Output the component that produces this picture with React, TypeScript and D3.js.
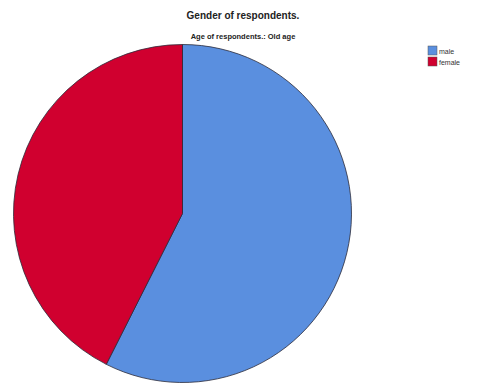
import React from "react";
import * as d3 from "d3";

const categories = ["male", "female"];
const counts = [27, 20];
const colors = ["#5A8FDF", "#D0002F"];
const title = "Gender of respondents.";
const subtitle = "Age of respondents.: Old age";

export default function App() {
  const W = 478, H = 384;
  const cx = 182.5, cy = 213.5, r = 169;
  const pie = d3.pie<number>().sort(null).value((d) => d)(counts);
  const arc = d3.arc<d3.PieArcDatum<number>>().innerRadius(0).outerRadius(r);
  return (
    <svg width={W} height={H} style={{ position: "absolute", left: 0, top: 0, background: "#fff" }}
      fontFamily="Liberation Sans, Arial, sans-serif">
      <text x={243} y={19} textAnchor="middle" fontSize={10} fontWeight="bold" fill="#222">{title}</text>
      <text x={243} y={39} textAnchor="middle" fontSize={7.5} fontWeight="bold" fill="#222">{subtitle}</text>
      <g transform={`translate(${cx},${cy})`}>
        {pie.map((p, i) => (
          <path key={i} d={arc(p) || ""} fill={colors[i]} stroke="#2b2b3a" strokeWidth={0.8} />
        ))}
      </g>
      <g transform="translate(428,46)">
        {categories.map((c, i) => (
          <g key={c} transform={`translate(0,${i * 11})`}>
            <rect width={9} height={9} fill={colors[i]} stroke="#555" strokeWidth={0.5} />
            <text x={11} y={7.5} fontSize={7} fill="#333">{c}</text>
          </g>
        ))}
      </g>
    </svg>
  );
}
